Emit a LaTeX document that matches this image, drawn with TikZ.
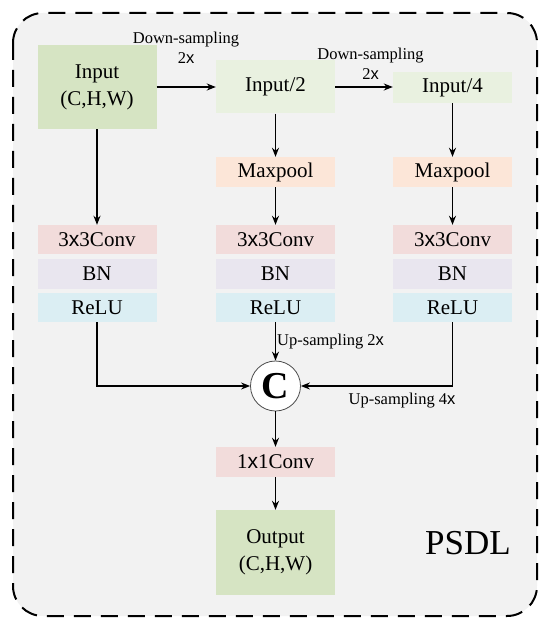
\documentclass[tikz,border=0pt]{standalone}
\usepackage{fontspec}
\setmainfont{Liberation Serif}
\newfontfamily\xfont{Liberation Sans}
\usepackage{tikz}
\usetikzlibrary{arrows.meta}

\definecolor{ingreen}{HTML}{D6E4C3}
\definecolor{inlight}{HTML}{E9F1E0}
\definecolor{poolpeach}{HTML}{FCE6D8}
\definecolor{convpink}{HTML}{F2DCDB}
\definecolor{bnlilac}{HTML}{E9E6EF}
\definecolor{relublue}{HTML}{DBEEF3}
\definecolor{panelgray}{HTML}{F2F2F2}

\newcommand{\tx}{{\xfont x}}

\tikzset{
  blk/.style={inner sep=0pt,minimum width=119pt,align=center,
    font=\fontsize{21}{27}\selectfont},
  lbl/.style={inner sep=0pt,align=center,font=\fontsize{16.5}{20}\selectfont},
  arr/.style={-{Stealth[length=9pt,width=7pt]},line width=1.4pt}
}

\begin{document}
\begin{tikzpicture}[x=1pt,y=-1pt]
\useasboundingbox (0,0) rectangle (550,628);
\draw[fill=panelgray,line width=2pt,dash pattern=on 17pt off 10pt,rounded corners=30pt]
  (13,13) rectangle (537,616);

% input branch
\node[blk,fill=ingreen,minimum height=84pt] (in) at (97,87) {Input\\(C,H,W)};
\node[blk,fill=inlight,minimum height=53pt] (in2) at (275.5,87) {Input/2};
\node[blk,fill=inlight,minimum height=31pt] (in4) at (452.5,87.5) {Input/4};
\node[blk,fill=poolpeach,minimum height=30pt] (mp2) at (275.5,172) {Maxpool};
\node[blk,fill=poolpeach,minimum height=30pt] (mp4) at (452.5,172) {Maxpool};

% conv stacks
\foreach \c/\x in {a/97,b/275.5,c/452.5}{
  \node[blk,fill=convpink,minimum height=29pt] (conv\c) at (\x,239.5) {3\tx3Conv};
  \node[blk,fill=bnlilac,minimum height=30pt] (bn\c) at (\x,274) {BN};
  \node[blk,fill=relublue,minimum height=29pt] (relu\c) at (\x,307.5) {ReLU};
}

\node[circle,draw=black!70,fill=white,line width=0.8pt,minimum size=50pt,inner sep=0pt,
  font=\fontsize{38}{38}\selectfont\bfseries] (cat) at (275.5,386) {C};
\node[blk,fill=convpink,minimum height=30pt] (conv1) at (275.5,462) {1\tx1Conv};
\node[blk,fill=ingreen,minimum height=85pt] (out) at (275.5,552.5) {Output\\(C,H,W)};
\node[font=\fontsize{35}{35}\selectfont] (name) at (468,543) {PSDL};

% labels
\node[lbl] (ds1) at (186,47.5) {Down-sampling\\2\tx};
\node[lbl] (ds2) at (370.5,63.5) {Down-sampling\\2\tx};
\node[lbl,anchor=west] (us2) at (277,342) {Up-sampling 2\tx};
\node[lbl] (us4) at (402,401) {Up-sampling 4\tx};

% connectors
\draw[arr] (in.east) -- (in2.west);
\draw[arr] (in2.east) -- (in4.west |- in2.east);
\draw[arr] (in2) -- (mp2);
\draw[arr] (in4) -- (mp4);
\draw[arr] (in) -- (conva);
\draw[arr] (mp2) -- (convb);
\draw[arr] (mp4) -- (convc);
\draw[arr] (relua.south) |- (cat.west);
\draw[arr] (relub) -- (cat);
\draw[arr] (reluc.south) |- (cat.east);
\draw[arr] (cat) -- (conv1);
\draw[arr] (conv1) -- (out);
\end{tikzpicture}
\end{document}
